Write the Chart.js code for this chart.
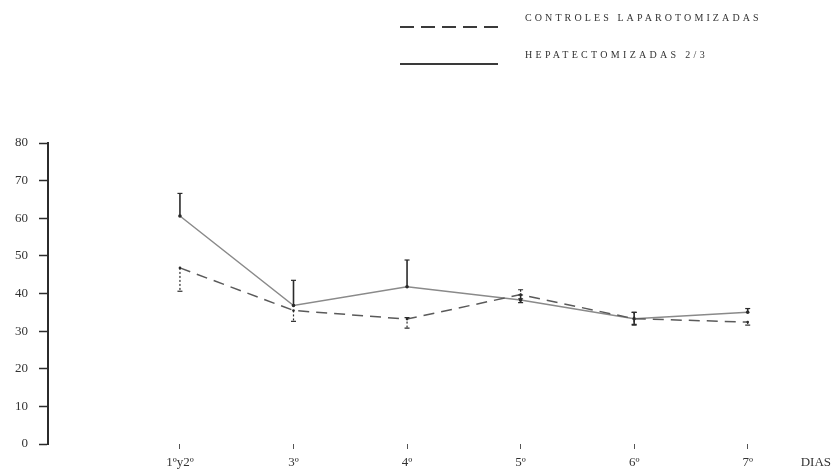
<!DOCTYPE html>
<html lang="es">
<head>
    <meta charset="UTF-8">
    <title>Dias</title>
    <script src="https://cdn.jsdelivr.net/npm/chart.js"></script>
    <style>
        body { margin: 0; background: #fff; }
        #wrap { width: 837px; height: 470px; }
    </style>
</head>
<body>
    <div id="wrap"><canvas id="myChart" width="837" height="470"></canvas></div>
    <script>
        // data
        const dias = ['1ºy2º', '3º', '4º', '5º', '6º', '7º'];
        const yTicks = [0, 10, 20, 30, 40, 50, 60, 70, 80];

        const controles = [46.8, 35.5, 33.2, 39.7, 33.3, 32.4];
        const controlesTop = [46.8, 35.5, 33.6, 41.0, 35.0, 32.4];
        const controlesBottom = [40.6, 32.6, 30.8, 38.6, 31.6, 31.6];

        const hepat = [60.6, 36.8, 41.8, 38.3, 33.3, 35.0];
        const hepatTop = [66.6, 43.5, 48.9, 39.6, 35.0, 36.0];
        const hepatBottom = [60.6, 36.8, 41.8, 37.6, 31.8, 35.0];

        const ink = '#2b2b2b';
        const serif = "'Liberation Serif', 'DejaVu Serif', serif";

        function toPoints(arr) {
            return arr.map((v, i) => ({ x: i, y: v }));
        }

        const errorBars = {
            id: 'errorBars',
            afterDatasetsDraw(chart) {
                const ctx = chart.ctx;
                const xs = chart.scales.x, ys = chart.scales.y;
                chart.data.datasets.forEach((ds) => {
                    ctx.save();
                    ctx.strokeStyle = ink;
                    ctx.lineWidth = ds.errWidth;
                    ctx.setLineDash(ds.errDash);
                    ds.errTop.forEach((top, i) => {
                        const bot = ds.errBottom[i];
                        if (top === bot) return;
                        const x = xs.getPixelForValue(i);
                        const y1 = ys.getPixelForValue(top);
                        const y2 = ys.getPixelForValue(bot);
                        ctx.beginPath();
                        ctx.moveTo(x, y1);
                        ctx.lineTo(x, y2);
                        ctx.stroke();
                        ctx.setLineDash([]);
                        ctx.beginPath();
                        if (top > ds.data[i].y + 0.3) {
                            ctx.moveTo(x - 2.5, y1); ctx.lineTo(x + 2.5, y1);
                        }
                        if (bot < ds.data[i].y - 0.3) {
                            ctx.moveTo(x - 2.5, y2); ctx.lineTo(x + 2.5, y2);
                        }
                        ctx.lineWidth = 1.2;
                        ctx.stroke();
                        ctx.lineWidth = ds.errWidth;
                        ctx.setLineDash(ds.errDash);
                    });
                    ctx.restore();
                });
            }
        };

        const legendBox = {
            id: 'legendBox',
            afterDraw(chart) {
                const ctx = chart.ctx;
                const rows = [
                    { y: 27, sp: '3.1px', ds: chart.data.datasets[0] },
                    { y: 64, sp: '3.3px', ds: chart.data.datasets[1] }
                ];
                ctx.save();
                rows.forEach((r) => {
                    ctx.strokeStyle = '#3a3a3a';
                    ctx.lineWidth = 1.8;
                    ctx.setLineDash(r.ds.borderDash ? [14, 7] : []);
                    ctx.beginPath();
                    ctx.moveTo(400, r.y);
                    ctx.lineTo(498, r.y);
                    ctx.stroke();
                    ctx.setLineDash([]);
                    ctx.fillStyle = '#333';
                    ctx.font = '10px ' + serif;
                    ctx.letterSpacing = r.sp;
                    ctx.textBaseline = 'middle';
                    ctx.fillText(r.ds.label, 525, r.y - 9);
                });
                ctx.restore();
            }
        };

        const ctx = document.getElementById('myChart').getContext('2d');
        const myChart = new Chart(ctx, {
            type: 'line',
            data: {
                datasets: [{
                    label: 'CONTROLES LAPAROTOMIZADAS',
                    data: toPoints(controles),
                    errTop: controlesTop,
                    errBottom: controlesBottom,
                    errWidth: 1.2,
                    errDash: [2, 2],
                    borderColor: '#5a5a5a',
                    borderWidth: 1.5,
                    borderDash: [11, 7],
                    pointRadius: 1.3,
                    pointBackgroundColor: ink,
                    pointBorderWidth: 0,
                    tension: 0
                }, {
                    label: 'HEPATECTOMIZADAS 2/3',
                    data: toPoints(hepat),
                    errTop: hepatTop,
                    errBottom: hepatBottom,
                    errWidth: 1.6,
                    errDash: [],
                    borderColor: '#8a8a8a',
                    borderWidth: 1.5,
                    pointRadius: 1.8,
                    pointBackgroundColor: ink,
                    pointBorderWidth: 0,
                    tension: 0
                }]
            },
            options: {
                responsive: false,
                animation: false,
                layout: { padding: { top: 143, right: 21, left: 0, bottom: 0 } },
                plugins: {
                    legend: { display: false },
                    tooltip: { enabled: false }
                },
                scales: {
                    x: {
                        type: 'linear',
                        min: -1.162,
                        max: 5.6,
                        afterBuildTicks: (scale) => {
                            scale.ticks = dias.map((d, i) => ({ value: i })).concat([{ value: 5.6 }]);
                        },
                        afterFit: (scale) => { scale.height = 26; },
                        border: { display: false },
                        grid: {
                            drawOnChartArea: false,
                            tickLength: 5,
                            tickColor: (c) => c.tick && c.tick.value > 5 ? 'rgba(0,0,0,0)' : '#555'
                        },
                        ticks: {
                            autoSkip: false,
                            maxRotation: 0,
                            padding: 6,
                            color: '#333',
                            font: { family: serif, size: 13 },
                            callback: (v) => v > 5 ? 'DIAS' : dias[v]
                        }
                    },
                    y: {
                        min: 0,
                        max: 80,
                        afterBuildTicks: (scale) => {
                            scale.ticks = yTicks.map((v) => ({ value: v }));
                        },
                        afterFit: (scale) => { scale.width = 48; },
                        border: { display: true, color: ink, width: 2 },
                        grid: {
                            drawOnChartArea: false,
                            tickLength: 9,
                            tickColor: ink,
                            tickWidth: 1.5
                        },
                        ticks: {
                            padding: 11,
                            color: '#333',
                            font: { family: serif, size: 13 }
                        }
                    }
                }
            },
            plugins: [errorBars, legendBox]
        });
    </script>
</body>
</html>
